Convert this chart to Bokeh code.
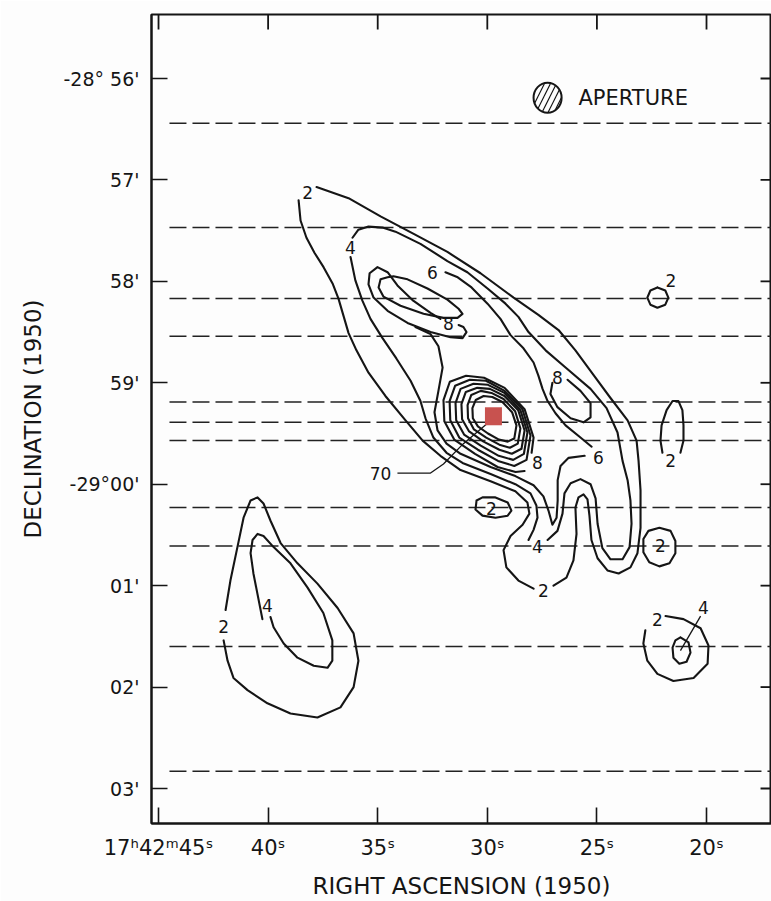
from bokeh.plotting import figure
from bokeh.models import Range1d, FixedTicker, ColumnDataSource
from bokeh.core.properties import value
from bokeh.embed import file_html
from bokeh.resources import INLINE

# ---------------- axes / ticks ----------------
RA_TICKS = [45, 40, 35, 30, 25, 20]
RA_LABELS = ["17ʰ42ᵐ45ˢ", "40ˢ", "35ˢ", "30ˢ", "25ˢ", "20ˢ"]
DEC_TICKS = [56, 57, 58, 59, 60, 61, 62, 63]   # arcmin south of -28°00'
DEC_LABELS = ["-28° 56'", "57'", "58'", "59'", "-29°00'", "01'", "02'", "03'"]
RA_RANGE = (45.32, 17.035)
DEC_RANGE = (63.345, 55.369)
TOP_TICK_LEN = 0.148     # arcmin: inward tick on the upper edge
RIGHT_TICK_LEN = 0.50    # seconds: inward tick on the right edge

# ---------------- scan lines (declination, arcmin) ----------------
SCAN_DEC = [56.44, 57.47, 58.17, 58.54, 59.19, 59.39, 59.57, 60.23, 60.61, 61.60, 62.83]
SCAN_RA = (44.50, 16.50)

# ---------------- contours (RA s, Dec arcmin) ----------------
C2_MAIN_LEFT = [(38.61,57.20),(38.52,57.40),(38.25,57.57),(37.88,57.72),(37.47,57.86),(37.06,58.02),
                (36.79,58.17),(36.56,58.34),(36.33,58.51),(35.97,58.68),(35.42,58.90),(34.65,59.13),
                (33.73,59.37),(32.95,59.57),(32.14,59.72),(31.22,59.86),(29.85,59.97),(28.72,60.07),
                (28.17,60.18),(28.08,60.29),(28.39,60.40),(28.94,60.51),(29.26,60.65),(29.13,60.82),
                (28.58,60.95),(27.89,61.03)]
C2_MAIN_RIGHT = [(26.98,61.00),(26.39,60.92),(26.07,60.75),(25.93,60.49),(25.98,60.23),(25.84,60.13),
                 (25.61,60.10),(25.43,60.15),(25.34,60.31),(25.25,60.55),(24.97,60.73),(24.52,60.85),
                 (24.01,60.88),(23.47,60.82),(23.15,60.68),(23.01,60.43),(23.01,60.06),(23.10,59.77),
                 (23.19,59.57),(23.60,59.37),(24.38,59.15),(25.20,58.91),(25.98,58.68),(26.75,58.48),
                 (27.67,58.33),(28.80,58.16),(30.31,57.92),(31.82,57.71),(33.38,57.53),(34.87,57.36),
                 (36.33,57.18),(37.79,57.07)]
C4_MAIN = [(36.15,57.57),(35.88,57.49),(35.42,57.46),(34.78,57.47),(34.19,57.51),(33.05,57.63),
           (31.82,57.80),(30.91,57.91),(29.99,58.07),(29.17,58.22),(28.58,58.35),(28.12,58.50),
           (27.34,58.68),(26.43,58.85),(25.29,59.06),(24.56,59.25),(24.06,59.49),(23.83,59.77),
           (23.60,59.96),(23.47,60.16),(23.42,60.39),(23.51,60.62),(23.83,60.74),(24.38,60.74),
           (24.75,60.63),(24.97,60.39),(25.06,60.14),(25.29,60.00),(25.75,59.95),(26.20,59.99),
           (26.48,60.09),(26.57,60.29),(26.80,60.46),(27.25,60.55)]
C4_LEFT = [(36.24,57.76),(36.02,57.99),(35.70,58.19),(35.33,58.37),(34.78,58.56),(34.15,58.76),
           (33.50,58.98),(33.05,59.18),(32.82,59.35),(32.46,59.54),(31.86,59.69),(31.13,59.79),
           (29.85,59.90),(28.72,60.00),(28.03,60.09),(27.76,60.21),(27.71,60.33),(27.89,60.45),
           (28.12,60.55)]
C6_RIGHT = [(31.91,57.91),(31.35,57.96),(30.72,58.06),(29.99,58.22),(29.40,58.37),(28.94,58.53),
            (28.35,58.66),(27.89,58.80),(27.67,58.93),(27.48,59.06),(27.25,59.18),(26.89,59.30),
            (26.43,59.42),(25.75,59.54),(25.24,59.63)]
C6_BAND = [(33.28,58.45),(32.59,58.52),(32.23,58.64),(32.04,58.85),(32.23,59.08),(32.41,59.29),
           (32.27,59.47),(31.86,59.60),(31.22,59.70),(29.85,59.83),(28.72,59.92),(27.89,60.01),
           (27.44,60.12),(27.21,60.26),(27.03,60.40),(26.84,60.33),(26.79,60.16),(26.79,59.96),
           (26.66,59.82),(26.29,59.74),(25.56,59.72)]
RIDGE_OUTER = [(32.14,58.37),(32.59,58.31),(33.38,58.19),(34.10,58.04),(34.55,57.91),(35.01,57.86),
               (35.37,57.92),(35.42,58.03),(35.19,58.16),(34.55,58.29),(33.64,58.41),(32.59,58.50),
               (31.68,58.55),(31.13,58.56),(30.95,58.50),(31.09,58.45),(31.31,58.43)]
RIDGE_INNER = [(34.55,57.96),(34.87,57.98),(34.96,58.06),(34.74,58.15),(33.96,58.24),(32.91,58.32),
               (32.00,58.36),(31.36,58.36),(31.13,58.32),(31.31,58.27),(31.82,58.18),(32.73,58.07),
               (33.64,57.98),(34.28,57.95),(34.55,57.96)]
PEAK_R0 = [(30.68,59.25),(30.53,59.17),(30.17,59.13),(29.77,59.14),(29.31,59.19),(28.87,59.29),
           (28.67,59.42),(28.77,59.55),(29.07,59.58),(29.47,59.56),(29.97,59.50),(30.43,59.43),
           (30.66,59.35),(30.68,59.25)]
PEAK_R1 = [(30.90,59.22),(30.73,59.12),(30.30,59.08),(29.81,59.10),(29.26,59.16),(28.73,59.28),
           (28.49,59.45),(28.61,59.60),(28.97,59.64),(29.45,59.61),(30.05,59.54),(30.61,59.46),
           (30.88,59.35),(30.90,59.22)]
PEAK_R2 = [(31.18,59.21),(30.98,59.09),(30.46,59.05),(29.88,59.06),(29.22,59.13),(28.59,59.27),
           (28.30,59.47),(28.44,59.65),(28.88,59.70),(29.45,59.66),(30.17,59.58),(30.83,59.48),
           (31.15,59.36),(31.18,59.21)]
PEAK_R3 = [(31.45,59.20),(31.22,59.06),(30.63,59.01),(29.97,59.02),(29.22,59.10),(28.49,59.27),
           (28.17,59.49),(28.33,59.70),(28.82,59.76),(29.48,59.72),(30.30,59.62),(31.06,59.51),
           (31.42,59.37),(31.45,59.20)]
PEAK_R4 = [(31.72,59.18),(31.47,59.03),(30.80,58.97),(30.06,58.98),(29.21,59.08),(28.40,59.26),
           (28.03,59.52),(28.21,59.76),(28.77,59.82),(29.51,59.77),(30.43,59.66),(31.28,59.54),
           (31.69,59.37),(31.72,59.18)]
PEAK_R5 = [(27.98,59.69),(27.89,59.54),(28.30,59.26),(29.21,59.05),(30.15,58.95),(30.97,58.93),
           (31.71,58.99),(32.00,59.17),(31.96,59.38),(31.51,59.56),(30.56,59.70),(29.53,59.83),
           (28.71,59.88),(28.30,59.87)]
EAST8 = [(26.34,58.97),(25.75,59.08),(25.29,59.20),(25.29,59.34),(25.61,59.39),(26.20,59.35),
         (26.80,59.24),(27.12,59.11),(27.03,59.00)]
SMALL2_A = [(30.49,60.16),(30.22,60.13),(29.63,60.13),(29.07,60.18),(28.90,60.26),(29.07,60.31),
            (29.63,60.33),(30.22,60.31),(30.54,60.25),(30.49,60.16)]
SMALL2_B = [(22.15,60.43),(21.64,60.46),(21.42,60.56),(21.42,60.68),(21.69,60.78),(22.15,60.81),
            (22.61,60.77),(22.88,60.67),(22.88,60.54),(22.65,60.46),(22.15,60.43)]
SMALL2_C = [(22.24,58.06),(21.88,58.09),(21.74,58.16),(21.88,58.23),(22.24,58.26),(22.56,58.23),
            (22.70,58.16),(22.56,58.09),(22.24,58.06)]
SMALL2_D = [(22.01,59.69),(22.10,59.57),(22.05,59.42),(21.82,59.27),(21.55,59.18),(21.28,59.18),
            (21.10,59.27),(21.05,59.42),(21.05,59.57),(21.19,59.69)]
WEST2 = [(41.94,61.24),(41.72,60.95),(41.40,60.62),(41.12,60.33),(40.80,60.16),(40.48,60.13),
         (40.21,60.19),(39.89,60.36),(39.43,60.58),(38.66,60.78),(37.75,60.98),(36.83,61.22),
         (36.10,61.47),(35.88,61.74),(36.10,62.00),(36.70,62.20),(37.75,62.30),(38.98,62.26),
         (40.03,62.16),(40.94,62.03),(41.58,61.91),(41.85,61.74),(42.03,61.54)]
WEST4 = [(40.26,61.33),(40.67,60.88),(40.80,60.68),(40.71,60.55),(40.48,60.49),(40.21,60.51),
         (39.75,60.62),(38.98,60.78),(38.20,61.02),(37.48,61.27),(37.07,61.54),(37.07,61.74),
         (37.29,61.81),(37.92,61.79),(38.66,61.71),(39.29,61.57),(39.75,61.41),(39.89,61.31)]
SE2 = [(21.87,61.30),(21.05,61.33),(20.27,61.42),(19.91,61.59),(19.95,61.77),(20.59,61.91),
       (21.51,61.94),(22.24,61.87),(22.70,61.74),(22.88,61.57),(22.79,61.44)]
SE4 = [(21.19,61.51),(20.82,61.56),(20.73,61.66),(20.91,61.75),(21.24,61.77),(21.51,61.71),
       (21.55,61.61),(21.42,61.54),(21.19,61.51)]
CONTOURS = [C2_MAIN_LEFT, C2_MAIN_RIGHT, C4_MAIN, C4_LEFT, C6_RIGHT, C6_BAND, RIDGE_OUTER,
            RIDGE_INNER, PEAK_R0, PEAK_R1, PEAK_R2, PEAK_R3, PEAK_R4, PEAK_R5, EAST8,
            SMALL2_A, SMALL2_B, SMALL2_C, SMALL2_D, WEST2, WEST4, SE2, SE4]

LEADER_70 = [(34.10,59.89),(32.59,59.89),(32.00,59.80),(31.09,59.60),(29.99,59.40)]
LEADER_4 = [(21.19,61.64),(20.27,61.30)]

# contour labels: (RA, Dec, text)
CLABELS = [(38.20,57.12,"2"),(36.24,57.67,"4"),(32.50,57.91,"6"),(31.77,58.42,"8"),
           (26.80,58.95,"8"),(27.71,59.79,"8"),(24.93,59.74,"6"),(34.87,59.89,"70"),
           (29.81,60.24,"2"),(27.71,60.61,"4"),(27.44,61.05,"2"),(22.10,60.60,"2"),
           (21.62,57.99,"2"),(21.64,59.77,"2"),(42.03,61.40,"2"),(40.03,61.20,"4"),
           (22.24,61.33,"2"),(20.14,61.22,"4")]

PEAK = (29.72, 59.33)
APERTURE = (27.25, 56.19, 1.28, 0.296)   # RA, Dec, width (s), height (')
APERTURE_TEXT = (25.84, 56.19, "APERTURE")

INK = "#151515"
FONT = "DejaVu Sans"

p = figure(width=771, height=901, x_range=Range1d(*RA_RANGE), y_range=Range1d(*DEC_RANGE),
           output_backend="svg", toolbar_location=None,
           min_border_left=151, min_border_top=14, min_border_bottom=78, min_border_right=0)
p.grid.visible = False
p.outline_line_color = INK
p.outline_line_width = 2
p.background_fill_color = "#fdfdfd"
p.border_fill_color = "#fdfdfd"

def style_axis(ax, ticks, tick_len):
    ax.ticker = FixedTicker(ticks=ticks)
    ax.major_tick_in = tick_len
    ax.major_tick_out = 0
    ax.minor_tick_in = 0
    ax.minor_tick_out = 0
    ax.axis_line_width = 2
    ax.axis_line_color = INK
    ax.major_tick_line_width = 1.6
    ax.major_tick_line_color = INK
    ax.major_label_text_font = FONT
    ax.major_label_text_color = INK
    ax.axis_label_text_font = FONT
    ax.axis_label_text_font_style = "normal"
    ax.axis_label_text_color = INK

xa = p.xaxis[0]
style_axis(xa, RA_TICKS, 16)
xa.major_label_overrides = {t: l for t, l in zip(RA_TICKS, RA_LABELS)}
xa.major_label_text_font_size = "21px"
xa.major_label_standoff = 12
xa.axis_label = "RIGHT ASCENSION (1950)"
xa.axis_label_text_font_size = "23px"
xa.axis_label_standoff = 10

ya = p.yaxis[0]
style_axis(ya, DEC_TICKS, 16)
ya.major_label_overrides = {t: l for t, l in zip(DEC_TICKS, DEC_LABELS)}
ya.major_label_text_font_size = "19px"
ya.major_label_standoff = 12
ya.axis_label = "DECLINATION (1950)"
ya.axis_label_text_font_size = "23px"
ya.axis_label_standoff = 15

# inward ticks on the top and right edges of the frame
tick_src = ColumnDataSource(data=dict(
    x0=[float(t) for t in RA_TICKS] + [float(RA_RANGE[1])] * len(DEC_TICKS),
    x1=[float(t) for t in RA_TICKS] + [float(RA_RANGE[1] + RIGHT_TICK_LEN)] * len(DEC_TICKS),
    y0=[float(DEC_RANGE[1])] * len(RA_TICKS) + [float(d) for d in DEC_TICKS],
    y1=[float(DEC_RANGE[1] + TOP_TICK_LEN)] * len(RA_TICKS) + [float(d) for d in DEC_TICKS],
))
p.segment(x0="x0", y0="y0", x1="x1", y1="y1", source=tick_src, line_color=INK, line_width=1.8)

# scan lines
p.multi_line(xs=[list(SCAN_RA) for _ in SCAN_DEC], ys=[[d, d] for d in SCAN_DEC],
             line_color="#222222", line_width=1.5, line_dash="17 6")

# contours
p.multi_line(xs=[[pt[0] for pt in c] for c in CONTOURS],
             ys=[[pt[1] for pt in c] for c in CONTOURS],
             line_color=INK, line_width=2.1, line_join="round", line_cap="round")
p.multi_line(xs=[[pt[0] for pt in LEADER_70], [pt[0] for pt in LEADER_4]],
             ys=[[pt[1] for pt in LEADER_70], [pt[1] for pt in LEADER_4]],
             line_color=INK, line_width=1.3)

p.text(x=[c[0] for c in CLABELS], y=[c[1] for c in CLABELS], text=[c[2] for c in CLABELS],
       text_align="center", text_baseline="middle", text_font=value(FONT),
       text_font_size="17px", text_color=INK)

# peak marker
p.rect(x=[PEAK[0]], y=[PEAK[1]], width=17, height=18, width_units="screen",
       height_units="screen", fill_color="#c8524f", line_color=None)

# aperture
p.ellipse(x=[APERTURE[0]], y=[APERTURE[1]], width=[APERTURE[2]], height=[APERTURE[3]],
          fill_color=None, line_color=INK, line_width=2, hatch_pattern="/",
          hatch_color=INK, hatch_scale=12, hatch_weight=1.2)
p.text(x=[APERTURE_TEXT[0]], y=[APERTURE_TEXT[1]], text=[APERTURE_TEXT[2]],
       text_align="left", text_baseline="middle", text_font=value(FONT),
       text_font_size="21px", text_color=INK)

open("out.html", "w").write(file_html(p, INLINE))
